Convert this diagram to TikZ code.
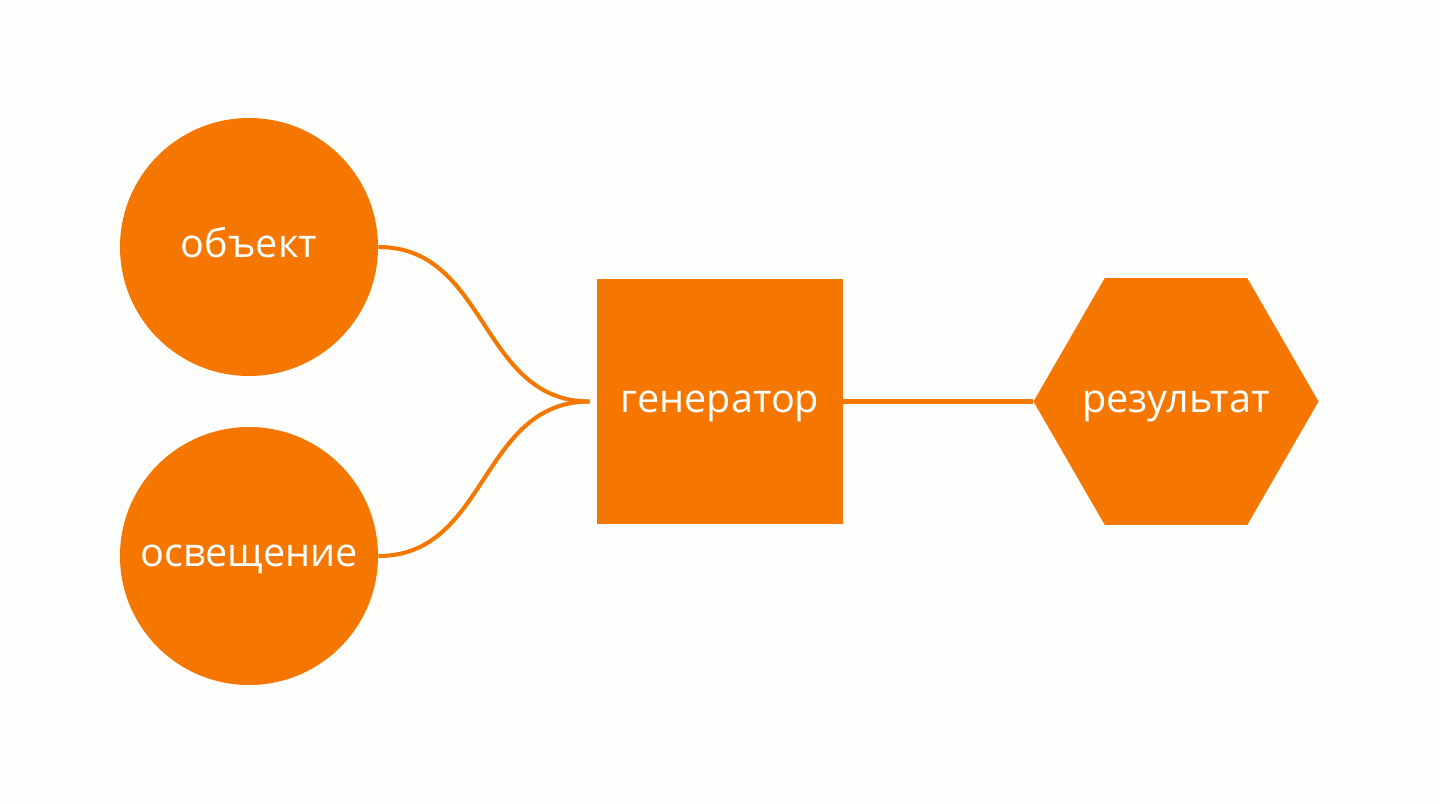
\documentclass[tikz,border=0pt]{standalone}
\usepackage{fontspec}
\setmainfont{Open Sans}
\usetikzlibrary{shapes.geometric}
\definecolor{accent}{HTML}{F57700}
\definecolor{paper}{HTML}{FDFDFB}
\begin{document}
\begin{tikzpicture}[
label text/.style={text=white,text height=12pt,text depth=0pt,font=\fontsize{22.5}{26}\selectfont},
input/.style={circle,fill=accent,label text,inner sep=0,minimum size=5.16cm},
block/.style={rectangle,fill=accent,label text,inner sep=0,minimum width=4.92cm,minimum height=4.9cm},
output/.style={regular polygon,regular polygon sides=6,fill=accent,inner sep=0,minimum size=5.7cm},
wire/.style={draw=accent,line width=2.3pt},
]
%background
\fill[paper](0,0)rectangle(28.8,-16.08);
\useasboundingbox(0,0)rectangle(28.8,-16.08);

%inputs
\node[input](obj)at(4.98,-4.94){объект};
\node[input](light)at(4.98,-11.12){освещение};
%generator
\node[block](gen)at(14.4,-8.03){генератор};
%result
\node[output](res)at(23.52,-8.03){};
\node[label text,inner sep=0](restext)at(res.center){результат};

%wires
\coordinate(join)at([xshift=-0.14cm]gen.west);
\draw[wire](obj.east)..controls +(2.2,0) and ([xshift=-2.2cm]join)..(join);
\draw[wire](light.east)..controls +(2.2,0) and ([xshift=-2.2cm]join)..(join);
\draw[wire](gen.east)--(res.west);

\end{tikzpicture}
\end{document}
